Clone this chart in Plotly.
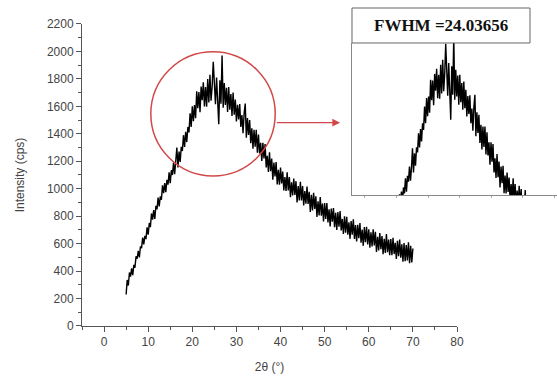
import numpy as np
import plotly.graph_objects as go

# 2-theta sampling grid (degrees)
theta_start = 5.0
theta_step = 0.25

# Intensity (cps), 5.00 .. 70.00 deg in 0.25 deg steps
int_05_10 = [230, 335, 295, 390, 360, 420, 370, 445, 425, 507, 490, 548, 500, 581, 567, 644, 595, 656, 633, 719]
int_10_15 = [665, 750, 720, 820, 775, 845, 780, 875, 850, 936, 872, 944, 920, 1024, 967, 1041, 975, 1065, 1030, 1120]
int_15_20 = [1040, 1135, 1100, 1190, 1105, 1185, 1300, 1155, 1270, 1195, 1305, 1275, 1390, 1305, 1415, 1340, 1450, 1410, 1550, 1450]
int_20_25 = [1600, 1492, 1610, 1513, 1710, 1587, 1705, 1558, 1745, 1645, 1775, 1600, 1740, 1597, 1800, 1628, 1830, 1642, 1745, 1925]
int_25_30 = [1790, 1615, 1810, 1640, 1470, 1790, 1620, 1970, 1590, 1770, 1610, 1735, 1560, 1740, 1575, 1690, 1530, 1700, 1540, 1650]
int_30_35 = [1490, 1612, 1505, 1617, 1450, 1537, 1405, 1547, 1620, 1372, 1515, 1392, 1500, 1332, 1440, 1292, 1430, 1307, 1430, 1262]
int_35_40 = [1395, 1257, 1335, 1202, 1335, 1220, 1325, 1155, 1240, 1122, 1265, 1127, 1220, 1065, 1190, 1090, 1195, 1031, 1137, 1029]
int_40_45 = [1155, 1038, 1125, 987, 1085, 983, 1120, 987, 1085, 939, 1047, 951, 1075, 955, 1055, 900, 1020, 915, 1050, 915]
int_45_50 = [1020, 879, 983, 891, 1015, 889, 977, 831, 955, 842, 970, 853, 945, 794, 908, 806, 940, 804, 892, 761]
int_50_55 = [895, 780, 895, 755, 850, 725, 855, 760, 860, 720, 825, 700, 830, 724, 838, 696, 780, 670, 800, 680]
int_55_60 = [795, 665, 755, 635, 765, 666, 778, 634, 735, 616, 737, 639, 750, 606, 703, 584, 720, 611, 722, 594]
int_60_65 = [705, 571, 683, 579, 705, 586, 687, 539, 650, 551, 678, 559, 655, 523, 635, 532, 670, 537, 629, 516]
int_65_70 = [633, 515, 642, 524, 606, 488, 620, 508, 630, 497, 595, 468, 605, 472, 590, 478, 610, 457, 585, 463, 565]

intensity = (int_05_10 + int_10_15 + int_15_20 + int_20_25 + int_25_30 + int_30_35 + int_35_40
             + int_40_45 + int_45_50 + int_50_55 + int_55_60 + int_60_65 + int_65_70)
two_theta = theta_start + theta_step * np.arange(len(intensity))

fwhm_label = "FWHM =24.03656"
x_title = "2θ (°)"
y_title = "Intensity (cps)"

axis_col = "#555555"
font_main = dict(family="Liberation Sans, Arial, sans-serif", size=12, color="#444444")

fig = go.Figure()
fig.add_trace(go.Scatter(x=two_theta, y=intensity, mode="lines",
                         line=dict(color="black", width=1.4), showlegend=False,
                         xaxis="x", yaxis="y"))
fig.add_trace(go.Scatter(x=two_theta, y=intensity, mode="lines",
                         line=dict(color="black", width=1.4), showlegend=False,
                         xaxis="x2", yaxis="y2"))

fig.update_layout(
    width=557, height=378,
    margin=dict(l=82, r=0, t=8, b=52, autoexpand=False),
    paper_bgcolor="white", plot_bgcolor="rgba(0,0,0,0)",
    font=font_main,
    xaxis=dict(domain=[0, 0.78947], range=[-5, 80], tick0=0, dtick=10, automargin=False,
               showline=True, linecolor=axis_col, linewidth=1, mirror=False,
               ticks="outside", ticklen=5, tickcolor=axis_col, showgrid=False, zeroline=False,
               minor=dict(dtick=5, tick0=0, ticks="outside", ticklen=3, tickcolor=axis_col, showgrid=False),
               title=dict(text=x_title, standoff=14, font=font_main), anchor="y"),
    yaxis=dict(domain=[0, 0.94969], range=[0, 2200], tick0=0, dtick=200, automargin=False,
               showline=True, linecolor=axis_col, linewidth=1,
               ticks="outside", ticklen=5, tickcolor=axis_col, showgrid=False, zeroline=False,
               minor=dict(dtick=100, tick0=0, ticks="outside", ticklen=3, tickcolor=axis_col, showgrid=False),
               title=dict(text=y_title, standoff=19, font=font_main), anchor="x"),
    xaxis2=dict(domain=[0.56842, 1.0], range=[1.47, 52.4], anchor="y2", automargin=False,
                showline=True, linecolor="#888888", linewidth=1,
                ticks="outside", ticklen=2, tickcolor="#aaaaaa", tick0=4.7, dtick=7.85,
                showticklabels=False, showgrid=False, zeroline=False),
    yaxis2=dict(domain=[0.41195, 0.88994], range=[1020, 1930], anchor="x2", automargin=False,
                showline=True, linecolor="#888888", linewidth=1,
                ticks="", showticklabels=False, showgrid=False, zeroline=False),
    shapes=[
        dict(type="rect", xref="paper", yref="paper", x0=0.56842, x1=1.0, y0=0.41195, y1=0.88994,
             fillcolor="white", line=dict(width=0), layer="below"),
        dict(type="circle", xref="x", yref="y", x0=10.6, x1=38.8, y0=1093, y1=1998,
             line=dict(color="#d24848", width=1.5)),
        dict(type="rect", xref="paper", yref="paper", x0=0.56842, x1=0.94316, y0=0.88994, y1=1.0,
             line=dict(color="#666666", width=1), fillcolor="white"),
    ],
    annotations=[
        dict(x=53.5, y=1481, ax=38.8, ay=1481, xref="x", yref="y", axref="x", ayref="y",
             showarrow=True, arrowhead=2, arrowsize=1.2, arrowwidth=1.3, arrowcolor="#d24848", text=""),
        dict(x=(0.56842 + 0.94316) / 2, y=0.945, xref="paper", yref="paper", showarrow=False,
             text="<b>" + fwhm_label + "</b>",
             font=dict(family="Liberation Serif, Times New Roman, serif", size=17, color="#111111"),
             xanchor="center", yanchor="middle"),
    ],
)

fig.write_html("out.html", config={"displayModeBar": False},
               post_script="document.body.style.margin='0px';document.body.style.overflow='hidden';")
